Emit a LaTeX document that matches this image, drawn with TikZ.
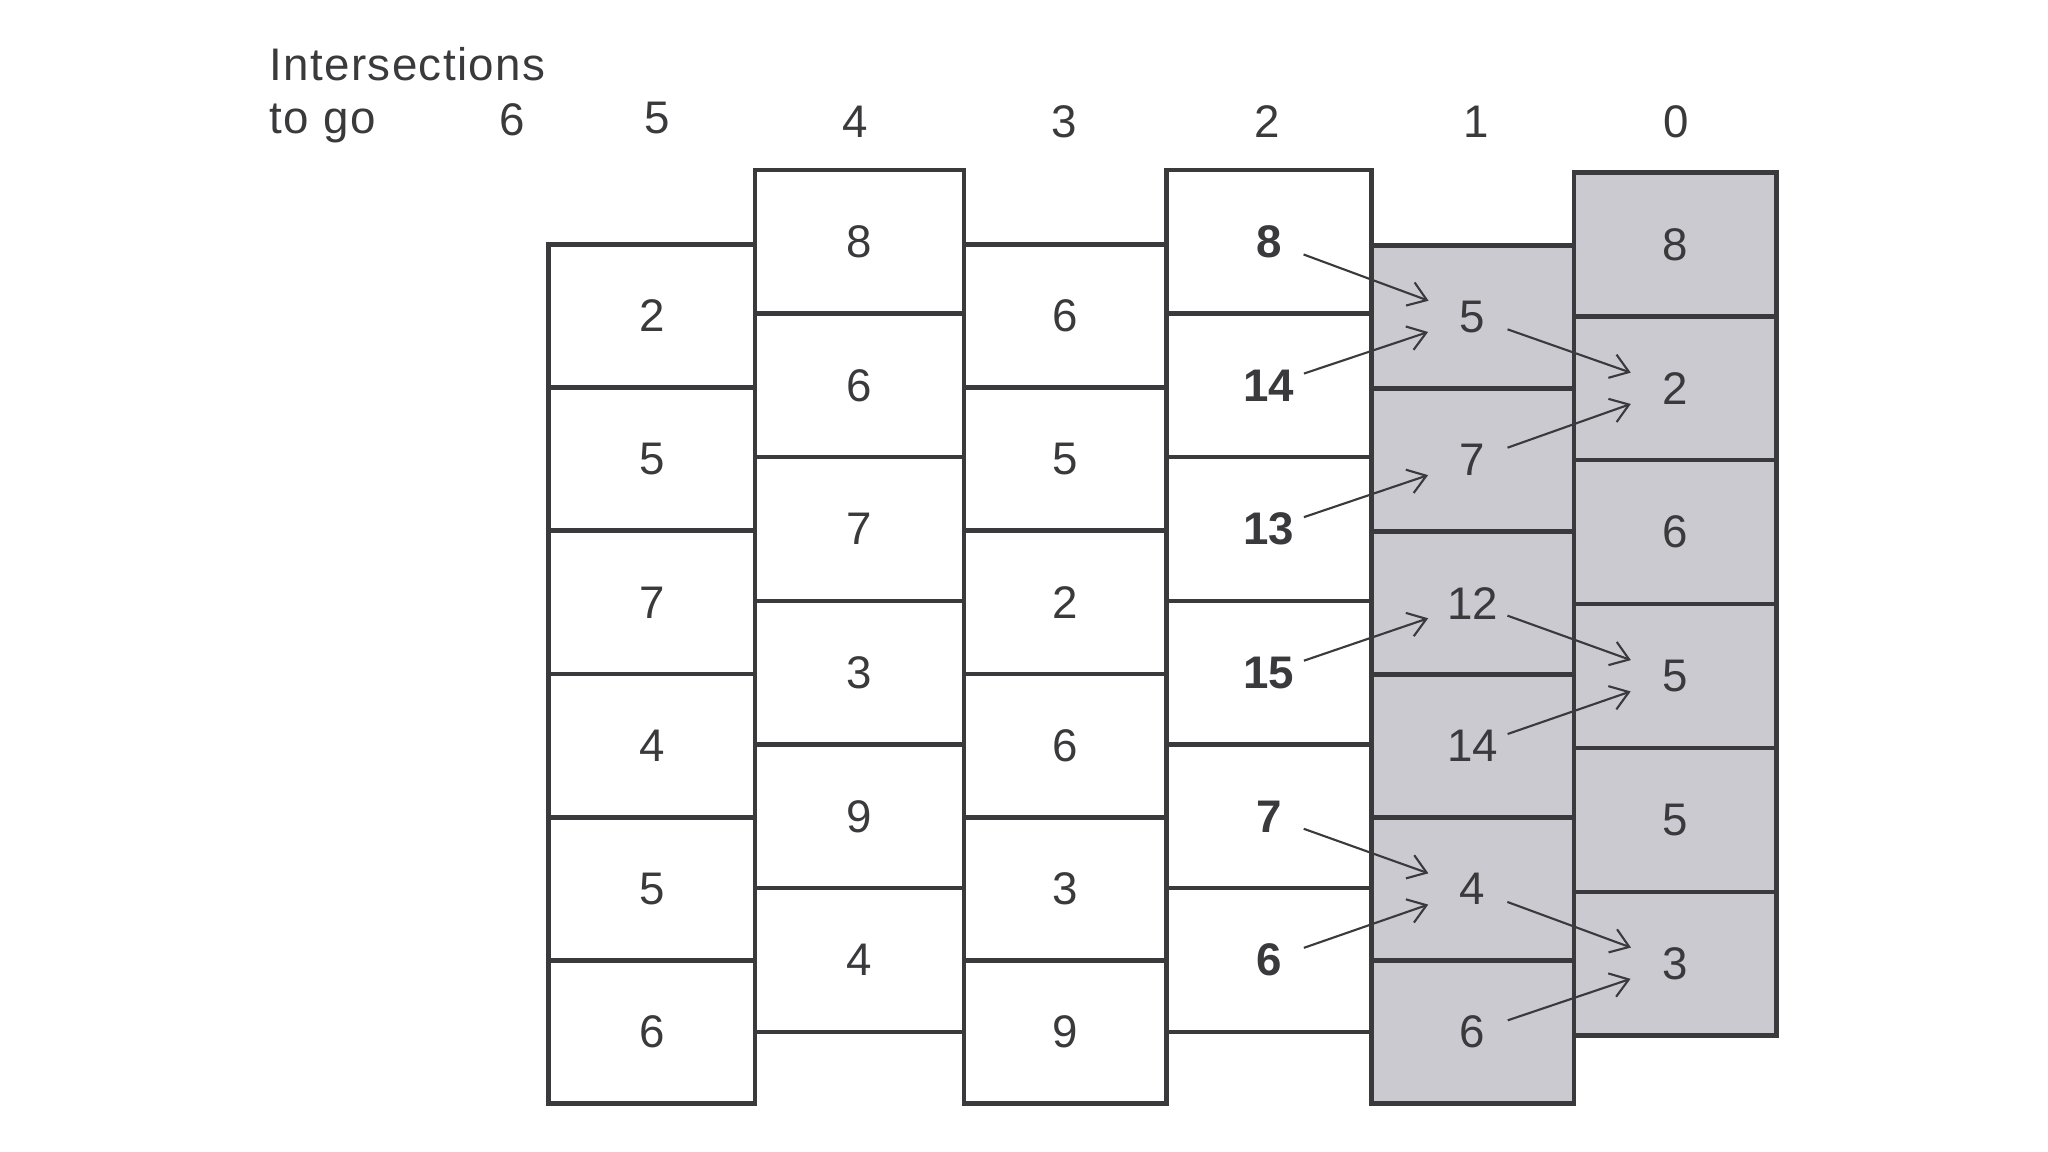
\documentclass[tikz,border=0pt]{standalone}
\usepackage{fontspec}
\setmainfont{Liberation Sans}
\newfontfamily\hdrfont[LetterSpace=3]{Liberation Sans}
\usetikzlibrary{arrows.meta}
\definecolor{ink}{RGB}{58,58,60}
\definecolor{shade}{RGB}{202,202,208}
\begin{document}
\begin{tikzpicture}[x=0.013061cm, y=-0.013061cm,
  cell/.style={draw=ink, line width=1.3pt, inner sep=0pt, text=ink,
    font=\fontsize{13}{15}\selectfont},
  boldcell/.style={cell, font=\fontsize{13}{15}\selectfont\bfseries},
  shadecell/.style={cell, fill=shade},
  label/.style={text=ink, inner sep=0pt, font=\fontsize{13}{15}\selectfont},
  hdr/.style={label, font=\fontsize{13}{15}\hdrfont},
  arr/.style={draw=ink, line width=0.6pt, -{Straight Barb[length=5pt,width=7pt,line width=0.6pt]},
    shorten <=0.37cm, shorten >=0.47cm}]
\useasboundingbox (0,0) rectangle (1568,882);
\fill[white] (0,0) rectangle (1568,882);
% header
\node[hdr, anchor=base west] (hdrA) at (206,62) {Intersections};
\node[hdr, anchor=base west] (hdrB) at (206,102) {to go};
\node[label] (h6) at (392,92) {6};
\node[label] (h5) at (503,90) {5};
\node[label] (h4) at (655,93) {4};
\node[label] (h3) at (815,93) {3};
\node[label] (h2) at (970,93) {2};
\node[label] (h1) at (1130,93) {1};
\node[label] (h0) at (1283,93) {0};
% column 5
\foreach \t [count=\i] in {2,5,7,4,5,6}
  \node[cell, minimum width=2.0636cm, minimum height=1.4324cm] (c5r\i) at (499,{187+109.67*(\i-0.5)}) {\t};
% column 4
\foreach \t [count=\i] in {8,6,7,3,9,4}
  \node[cell, minimum width=2.0898cm, minimum height=1.4367cm] (c4r\i) at (658,{130+110*(\i-0.5)}) {\t};
% column 3
\foreach \t [count=\i] in {6,5,2,6,3,9}
  \node[cell, minimum width=2.0245cm, minimum height=1.4324cm] (c3r\i) at (815.5,{187+109.67*(\i-0.5)}) {\t};
% column 2
\foreach \t [count=\i] in {8,14,13,15,7,6}
  \node[boldcell, minimum width=2.0506cm, minimum height=1.4367cm] (c2r\i) at (971.5,{130+110*(\i-0.5)}) {\t};
% column 1
\foreach \t [count=\i] in {5,7,12,14,4,6}
  \node[shadecell, minimum width=2.0245cm, minimum height=1.4302cm] (c1r\i) at (1127.5,{188+109.5*(\i-0.5)}) {\t};
% column 0
\foreach \t [count=\i] in {8,2,6,5,5,3}
  \node[shadecell, minimum width=2.0245cm, minimum height=1.4389cm] (c0r\i) at (1282.5,{132+110.17*(\i-0.5)}) {\t};
% arrows
\draw[arr] (c2r1.center) -- (c1r1.center);
\draw[arr] (c2r2.center) -- (c1r1.center);
\draw[arr] (c1r1.center) -- (c0r2.center);
\draw[arr] (c1r2.center) -- (c0r2.center);
\draw[arr] (c2r3.center) -- (c1r2.center);
\draw[arr] (c2r4.center) -- (c1r3.center);
\draw[arr] (c1r3.center) -- (c0r4.center);
\draw[arr] (c1r4.center) -- (c0r4.center);
\draw[arr] (c2r5.center) -- (c1r5.center);
\draw[arr] (c2r6.center) -- (c1r5.center);
\draw[arr] (c1r5.center) -- (c0r6.center);
\draw[arr] (c1r6.center) -- (c0r6.center);
\end{tikzpicture}
\end{document}
